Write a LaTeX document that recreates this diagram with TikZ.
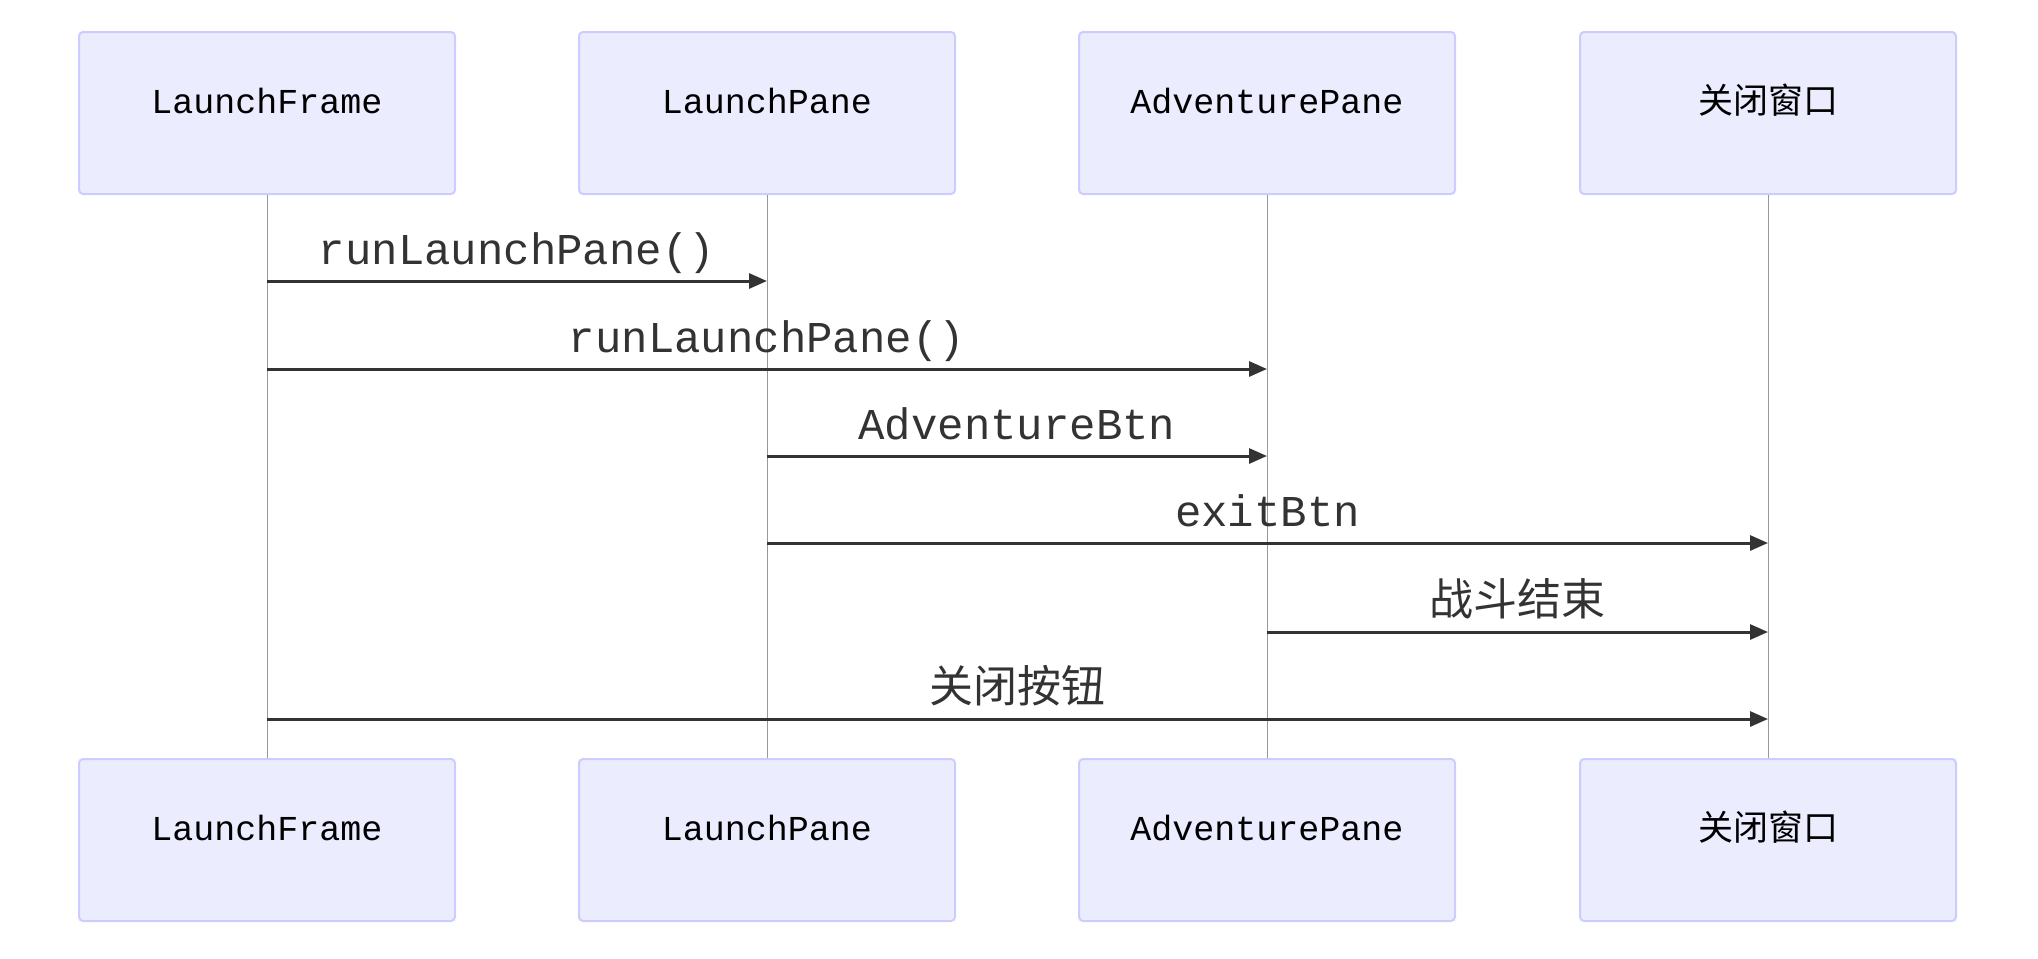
\documentclass[tikz,border=0pt]{standalone}
\usepackage{fontspec}
\setmonofont{Liberation Mono}
\newfontfamily\cjk{Noto Sans CJK SC}
\usetikzlibrary{arrows.meta}
\definecolor{actorfill}{HTML}{ECECFF}
\definecolor{actorline}{HTML}{CCCCFF}
\definecolor{msgink}{HTML}{333333}
\definecolor{lifeink}{HTML}{999999}

\begin{document}
\begin{tikzpicture}[x=0.5pt,y=-0.5pt,
  actor/.style={draw=actorline,fill=actorfill,line width=1pt,rounded corners=2pt,
    minimum width=188pt,minimum height=81pt,text height=0pt,text depth=0pt,
    inner sep=0pt,font=\ttfamily\fontsize{17.5}{20}\selectfont},
  life/.style={draw=lifeink,line width=0.5pt},
  msg/.style={draw=msgink,line width=1.5pt,-{Triangle[length=9pt,width=7.5pt]}},
  msglabel/.style={anchor=base,yshift=8.5pt,text=msgink,
    font=\ttfamily\fontsize{22}{26}\selectfont}]
  \useasboundingbox (0,0) rectangle (2038,958);
  \foreach \who/\cx/\txt in {lf/267/LaunchFrame,lp/767/LaunchPane,
      ap/1267/AdventurePane,cw/1768/{\cjk 关闭窗口}} {
    \node[actor] (\who-t) at (\cx,113) {\txt};
    \node[actor] (\who-b) at (\cx,840) {\txt};
    \draw[life] (\who-t) -- (\who-b);
  }
  \foreach \row/\ry in {1/281,2/369,3/456,4/543,5/632,6/719}
    \coordinate (row\row) at (0,\ry);
  \draw[msg] (lf-t |- row1) -- (lp-t |- row1) node[msglabel,midway] {runLaunchPane()};
  \draw[msg] (lf-t |- row2) -- (ap-t |- row2) node[msglabel,midway] {runLaunchPane()};
  \draw[msg] (lp-t |- row3) -- (ap-t |- row3) node[msglabel,midway] {AdventureBtn};
  \draw[msg] (lp-t |- row4) -- (cw-t |- row4) node[msglabel,midway] {exitBtn};
  \draw[msg] (ap-t |- row5) -- (cw-t |- row5) node[msglabel,midway] {\cjk 战斗结束};
  \draw[msg] (lf-t |- row6) -- (cw-t |- row6) node[msglabel,midway] {\cjk 关闭按钮};
\end{tikzpicture}
\end{document}
